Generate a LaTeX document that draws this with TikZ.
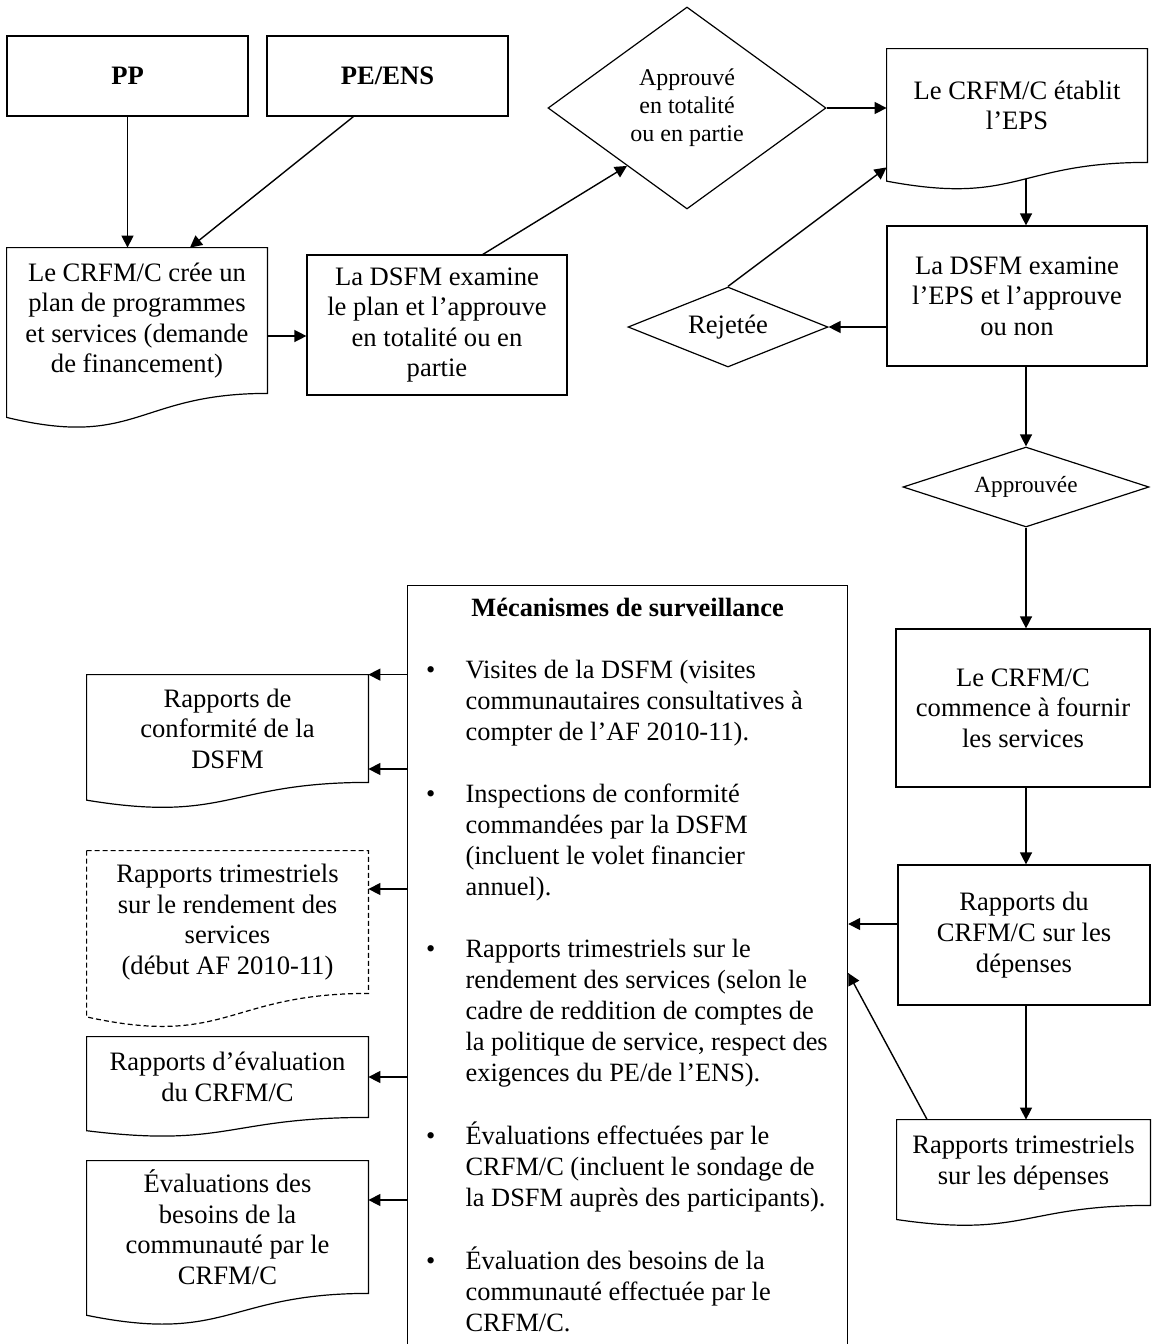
\documentclass[tikz,border=0pt]{standalone}
\usepackage{fontspec}
\setmainfont{Liberation Serif}
\usepackage{tikz}
\usetikzlibrary{calc,shapes.geometric}
\usetikzlibrary{arrows.meta}
\tikzset{>={Triangle[width=6pt,length=6pt]}}
% outline of a document box (wavy bottom)
\newcommand{\docline}[1]{let \p1=(#1.north west), \p2=(#1.south east) in
  (\p1) -- (\x2,\y1) -- (\p2)
  .. controls ({0.5*\x1+0.5*\x2},\y2) and ({0.5*\x1+0.5*\x2},{\y2-0.381*((\y1)-(\y2))})
  .. (\x1,{\y2-0.1646*((\y1)-(\y2))}) -- cycle}

\begin{document}
\begin{tikzpicture}[x=0.5pt, y=-0.5pt, font=\fontsize{13.3}{15.3}\selectfont]
  \tikzstyle{bnode} = [draw=black, line width=0.6pt, rectangle, inner sep=2pt, align=center]
  \tikzstyle{dnode} = [rectangle, inner sep=2pt, align=center]
  \tikzstyle{qnode} = [draw=black, line width=0.6pt, diamond, inner sep=0pt, align=center]
  \tikzstyle{conn} = [->, line width=0.7pt]

  \useasboundingbox (0,0) rectangle (1152,1344);

  % top left
  \node[bnode, minimum width=120.5pt, minimum height=40pt] (pp) at (127.5,76) {\textbf{PP}};
  \node[bnode, minimum width=120.5pt, minimum height=40pt] (pens) at (387.5,76) {\textbf{PE/ENS}};
  \node[dnode, minimum width=130pt, minimum height=72.5pt] (plan) at (137,320.5)
    {Le CRFM/C crée un\\plan de programmes\\et services (demande\\de financement)};
  \node[bnode, minimum width=130pt, minimum height=70pt] (exam) at (437,325)
    {La DSFM examine\\le plan et l’approuve\\en totalité ou en\\partie};
  \node[qnode, shape aspect=1.376, minimum width=139pt, minimum height=101pt,
    font=\fontsize{12}{14}\selectfont] (appr) at (687,108) {Approuvé\\en totalité\\ou en partie};

  % right column
  \node[dnode, minimum width=130pt, minimum height=56.5pt] (etab) at (1017,105.5) {Le CRFM/C établit\\l’EPS};
  \node[bnode, minimum width=130pt, minimum height=70pt] (exeps) at (1017,296)
    {La DSFM examine\\l’EPS et l’approuve\\ou non};
  \node[qnode, shape aspect=2.5, minimum width=100pt, minimum height=40pt] (rejt) at (728,327) {Rejetée};
  \node[qnode, shape aspect=3, minimum width=123pt, minimum height=40pt,
    font=\fontsize{11.6}{14}\selectfont] (apvd) at (1026,487) {Approuvée};
  \node[bnode, minimum width=127pt, minimum height=79pt] (fourn) at (1023,708)
    {Le CRFM/C\\commence à fournir\\les services};
  \node[bnode, minimum width=126pt, minimum height=70pt] (rdep) at (1024,935)
    {Rapports du\\CRFM/C sur les\\dépenses};
  \node[dnode, minimum width=126.5pt, minimum height=42.5pt] (rtri) at (1023.5,1162.5)
    {Rapports trimestriels\\sur les dépenses};

  % monitoring box
  \node[draw=black, line width=0.6pt, inner sep=0pt, anchor=north west,
    font=\fontsize{13.2}{15.5}\selectfont] (surv) at (407,585)
    {\parbox[t][381pt][t]{220pt}{\vspace*{4.6pt}%
     \begin{tabular}{@{\hspace{9.2pt}}p{19.8pt}@{}p{191pt}@{}}
       \multicolumn{2}{@{}c@{}}{\textbf{Mécanismes de surveillance}}\\
       \\
       \textbullet & Visites de la DSFM (visites\\
       & communautaires consultatives à\\
       & compter de l’AF 2010-11).\\
       \\
       \textbullet & Inspections de conformité\\
       & commandées par la DSFM\\
       & (incluent le volet financier\\
       & annuel).\\
       \\
       \textbullet & Rapports trimestriels sur le\\
       & rendement des services (selon le\\
       & cadre de reddition de comptes de\\
       & la politique de service, respect des\\
       & exigences du PE/de l’ENS).\\
       \\
       \textbullet & Évaluations effectuées par le\\
       & CRFM/C (incluent le sondage de\\
       & la DSFM auprès des participants).\\
       \\
       \textbullet & Évaluation des besoins de la\\
       & communauté effectuée par le\\
       & CRFM/C.
     \end{tabular}}};

  % left documents
  \node[dnode, minimum width=140.5pt, minimum height=53.5pt] (conf) at (227.5,728.5)
    {Rapports de\\conformité de la\\DSFM};
  \node[dnode, minimum width=140.5pt, minimum height=71pt] (rtsv) at (227.5,922)
    {Rapports trimestriels\\sur le rendement des\\services\\(début AF 2010-11)};
  \node[dnode, minimum width=140.5pt, minimum height=40pt] (eval) at (227.5,1077)
    {Rapports d’évaluation\\du CRFM/C};
  \node[dnode, minimum width=140.5pt, minimum height=66pt] (besn) at (227.5,1227)
    {Évaluations des\\besoins de la\\communauté par le\\CRFM/C};

  \foreach \d in {plan,etab,conf,eval,besn,rtri}
    \draw[line width=0.6pt] \docline{\d};
  \draw[line width=0.6pt, dash pattern=on 2.5pt off 1.5pt] \docline{rtsv};

  % connectors
  \draw[conn] (pp.south) -- (pp.south |- plan.north);
  \draw[conn] (pens.-130) -- (plan.54);
  \draw[conn] (plan.east |- 0,336) -- (exam.west |- 0,336);
  \draw[conn] (exam.57) -- (appr.224);
  \draw[conn] (appr.east) -- (etab.west |- appr.east);
  \draw[conn] ($(etab.south -| apvd.north)+(0,17)$) -- (exeps.north -| apvd.north);
  \draw[conn] (exeps.west |- rejt.east) -- (rejt.east);
  \draw[conn] (rejt.north) -- ($(etab.south west)+(0,5)$);
  \draw[conn] (exeps.south -| apvd.north) -- (apvd.north);
  \draw[conn] (apvd.south) -- (apvd.south |- fourn.north);
  \draw[conn] (fourn.south -| apvd.south) -- (rdep.north -| apvd.south);
  \draw[conn] (rdep.south -| apvd.south) -- (rtri.north -| apvd.south);
  \draw[conn] (rdep.west |- 0,924) -- (surv.east |- 0,924);
  \draw[conn] (rtri.156) -- (surv.east |- 0,973);
  \draw[conn] (surv.west |- conf.north east) -- (conf.north east);
  \draw[conn] (surv.west |- 0,769) -- (conf.east |- 0,769);
  \draw[conn] (surv.west |- 0,889) -- (rtsv.east |- 0,889);
  \draw[conn] (surv.west |- eval.east) -- (eval.east);
  \draw[conn] (surv.west |- 0,1200) -- (besn.east |- 0,1200);
\end{tikzpicture}
\end{document}
